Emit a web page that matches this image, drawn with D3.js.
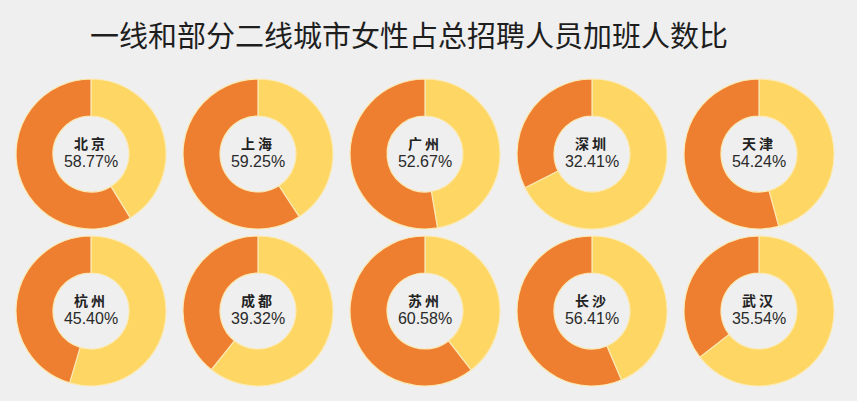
<!DOCTYPE html>
<html>
<head>
<meta charset="utf-8">
<script src="https://cdn.jsdelivr.net/npm/d3@7"></script>
<style>
  body { margin: 0; background: #efefef; }
  svg { display: block; }
</style>
</head>
<body>
<script>
var cities = ["北京", "上海", "广州", "深圳", "天津", "杭州", "成都", "苏州", "长沙", "武汉"];
var shares = [58.77, 59.25, 52.67, 32.41, 54.24, 45.40, 39.32, 60.58, 56.41, 35.54];
var title = "一线和部分二线城市女性占总招聘人员加班人数比";

var width = 857, height = 401;
var colors = { female: "#ee7f31", rest: "#fdd663", edge: "#fbeab4" };

var svg = d3.select("body").append("svg")
  .attr("width", width)
  .attr("height", height);

svg.append("rect")
  .attr("width", width)
  .attr("height", height)
  .attr("fill", "#efefef");

svg.append("text")
  .attr("x", 409)
  .attr("y", 47)
  .attr("text-anchor", "middle")
  .attr("font-family", "'Noto Sans CJK SC', sans-serif")
  .attr("font-size", 29)
  .attr("fill", "#1e1e1e")
  .text(title);

var xScale = d3.scalePoint().domain(d3.range(5)).range([91, 759]);
var yScale = d3.scalePoint().domain([0, 1]).range([154, 311]);

var pie = d3.pie().sort(null).value(d => d.v);
var arc = d3.arc().innerRadius(38).outerRadius(75);

var groups = svg.selectAll("g.donut")
  .data(cities.map((c, i) => ({ city: c, share: shares[i], i: i })))
  .enter().append("g")
  .classed("donut", true)
  .attr("transform", d => "translate(" + xScale(d.i % 5) + "," + yScale(Math.floor(d.i / 5)) + ")");

groups.selectAll("path")
  .data(d => pie([
    { k: "rest", v: 100 - d.share },
    { k: "female", v: d.share }
  ]))
  .enter().append("path")
  .attr("d", arc)
  .attr("fill", d => colors[d.data.k])
  .attr("stroke", colors.edge)
  .attr("stroke-width", 1.2);

groups.append("text")
  .attr("y", -5)
  .attr("text-anchor", "middle")
  .attr("font-family", "'Noto Sans CJK SC', sans-serif")
  .attr("font-weight", "bold")
  .attr("font-size", 14)
  .attr("letter-spacing", 3)
  .attr("fill", "#222")
  .text(d => d.city);

groups.append("text")
  .attr("y", 13)
  .attr("text-anchor", "middle")
  .attr("font-family", "'Liberation Sans', Arial, sans-serif")
  .attr("font-size", 16)
  .attr("fill", "#2a2a2a")
  .text(d => d.share.toFixed(2) + "%");
</script>
</body>
</html>
